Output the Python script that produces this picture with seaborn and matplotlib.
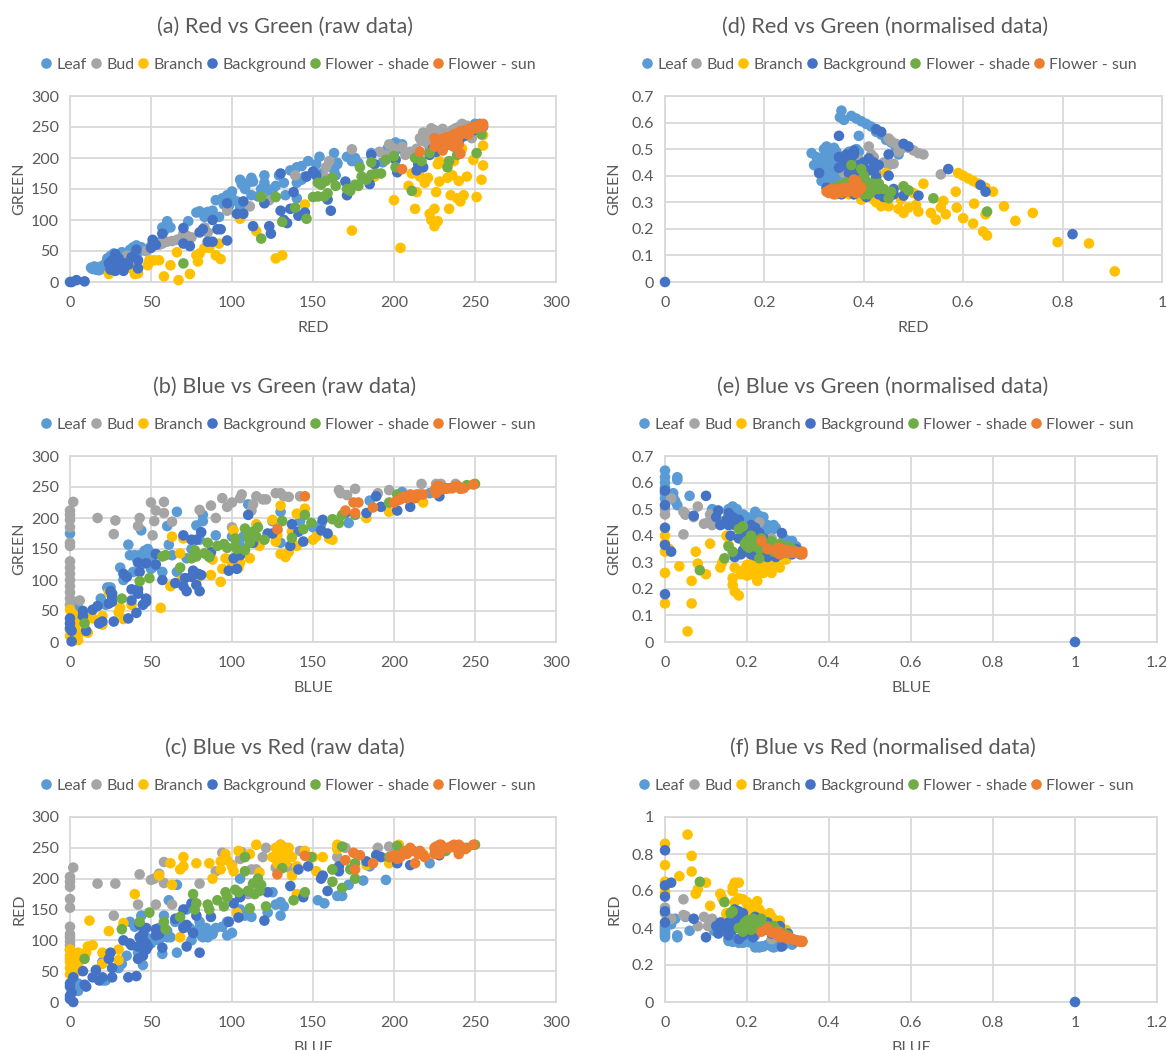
import pandas as pd
import seaborn as sns
from matplotlib import pyplot as plt

series_names = ["Leaf", "Bud", "Branch", "Background", "Flower - shade", "Flower - sun"]
series_colors = ["#5B9BD5", "#A5A5A5", "#FFC000", "#4472C4", "#70AD47", "#ED7D31"]

# (a) red, green
a_leaf = [(13,23),(15,25),(17,24),(19,21),(20,26),(22,30),(23,38),(25,42),(27,46),(30,40),(32,48),(35,42),(37,52),(39,56),(41,59),(44,56),(47,50),(50,58),(52,62),(56,65),(57,88),(60,98),(62,88),(73,98),(78,112),(80,114),(85,113),(88,115),(92,105),(90,132),(94,135),(97,140),(98,122),(100,146),(103,130),(105,120),(105,165),(106,158),(110,160),(112,168),(113,162),(112,140),(116,138),(120,172),(120,160),(122,150),(125,148),(127,155),(129,172),(132,160),(133,140),(136,180),(140,185),(140,160),(140,135),(143,187),(147,195),(145,170),(154,202),(155,175),(163,208),(165,192),(163,180),(164,172),(171,202),(174,195),(178,192),(186,208),(193,193),(199,222),(201,225),(203,215),(225,225),(235,225),(250,255),(253,255),(245,248),(255,250),(240,240),
          (14,21),(16,20),(18,19),(21,22),(24,24),(26,28),(24,33),(28,35),(33,38),(36,47),(40,50),(43,50),(30,30),(26,21),(60,90),(58,82),(83,105),(95,125),(100,135),(108,150),(118,150),(124,142),(143,165),(152,190),(165,190),(176,200),(196,215),(205,222),(222,218),(228,228),(232,232),(238,236),(244,245),(248,250)]
a_bud = [(35,42),(47,50),(55,60),(57,62),(60,65),(63,66),(66,68),(69,72),(70,78),(72,75),(75,72),(83,88),(85,80),(97,115),(111,122),(123,132),(139,172),(160,195),(158,185),(157,170),(174,214),(191,210),(195,205),(197,222),(200,215),(205,218),(207,205),(210,210),(214,215),(217,228),(218,235),(218,241),(222,222),(223,248),(230,247),(233,230),(240,250),(242,255),(248,232),(252,245),
         (216,232),(220,238),(225,245),(228,240),(236,245),(238,248),(245,252),(220,225)]
a_branch = [(24,13),(38,22),(40,13),(42,14),(48,27),(49,35),(52,35),(55,35),(58,9),(62,27),(66,48),(67,3),(74,13),(78,43),(79,33),(80,46),(83,55),(86,55),(90,43),(92,62),(93,37),(105,102),(115,82),(127,38),(131,43),(145,125),(174,83),(188,170),(200,132),(204,55),(209,155),(211,175),(213,118),(214,145),(216,170),(219,160),(221,168),(222,110),(223,100),(225,118),(225,90),(226,145),(227,190),(227,98),(228,162),(233,168),(234,118),(235,140),(236,172),(237,195),(239,135),(240,163),(241,130),(242,215),(243,140),(245,170),(249,197),(251,137),(254,165),(255,188),(255,220),(255,237),(228,195)]
a_background = [(0,0),(1,0),(4,3),(9,1),(24,30),(25,20),(26,35),(28,45),(28,18),(30,25),(33,18),(34,30),(38,40),(41,52),(42,35),(42,22),(51,68),(50,55),(53,60),(57,78),(70,87),(70,62),(74,58),(80,80),(82,85),(85,65),(88,65),(88,100),(91,85),(93,85),(97,67),(97,127),(103,110),(107,110),(107,130),(113,90),(120,127),(123,90),(124,78),(130,115),(130,175),(132,100),(134,95),(136,118),(138,145),(141,107),(145,112),(146,170),(150,178),(152,172),(159,133),(161,115),(170,162),(171,140),(185,158),(186,205),(188,190),(201,197),(202,177),(214,180),(218,185),(222,205),(226,210),(230,215),(236,220),(240,225),
                (215,190),(224,215),(233,222),(238,228),(243,235),(250,245),(27,30),(30,38),(36,28)]
a_shade = [(70,30),(118,70),(118,137),(127,137),(131,97),(139,120),(146,102),(150,137),(153,138),(153,160),(155,157),(158,163),(157,138),(159,143),(162,168),(164,155),(171,150),(173,147),(176,157),(178,155),(179,185),(180,170),(183,165),(186,173),(186,193),(189,175),(192,175),(195,197),(200,203),(201,185),(211,147),(213,200),(217,195),(222,208),(233,185),(234,195),(239,205),(251,208),(254,238)]
a_sun = [(205,182),(216,210),(225,218),(225,232),(230,212),(232,225),(235,228),(238,225),(240,235),(241,207),(243,240),(245,240),(246,243),(248,246),(250,248),(252,250),(255,252),(255,255),(240,222),(236,232),(228,228),(249,250),
         (226,225),(229,230),(231,232),(233,234),(237,238),(239,240),(241,243),(244,245),(247,248),(251,252),(253,253),(254,250),(234,222),(237,218),(246,238)]

# (b) blue, green
b_leaf = [(0,175),(2,65),(5,55),(3,35),(19,70),(22,60),(23,88),(25,88),(31,120),(33,100),(36,157),(37,140),(39,113),(41,135),(43,140),(44,180),(45,128),(46,147),(48,135),(50,118),(52,122),(57,113),(60,187),(61,157),(63,140),(66,113),(66,210),(72,135),(75,150),(78,188),(80,165),(82,205),(82,195),(90,172),(100,170),(105,155),(107,170),(110,222),(112,165),(125,195),(128,180),(130,210),(130,160),(142,195),(150,185),(155,190),(172,192),(185,228),(205,242),(222,240),(217,230),
          (44,125),(47,140),(49,145),(46,140),(43,135),(40,140),(48,150),(50,132),(4,40),(1,50),(3,60)]
b_bud = [(0,60),(0,70),(0,80),(0,90),(0,100),(0,110),(0,120),(0,130),(0,155),(0,160),(0,185),(0,197),(0,205),(0,212),(2,226),(6,67),(17,200),(27,174),(28,196),(42,187),(43,200),(50,225),(51,172),(52,195),(53,212),(58,208),(58,226),(63,194),(80,213),(87,220),(90,200),(94,232),(97,218),(100,225),(100,185),(105,232),(106,238),(112,212),(113,222),(115,235),(119,230),(121,230),(127,240),(130,240),(132,235),(135,234),(142,235),(166,245),(167,240),(171,237),(176,247),(190,240),(197,245),(217,255),(226,255),(229,255),(238,255)]
b_branch = [(0,10),(0,20),(0,52),(2,45),(4,30),(5,3),(6,15),(11,15),(13,40),(14,38),(20,28),(20,42),(24,80),(30,48),(31,55),(33,37),(38,60),(56,55),(62,90),(63,170),(68,143),(69,100),(70,167),(78,100),(87,108),(88,133),(93,97),(94,118),(96,135),(100,125),(101,180),(104,120),(105,128),(111,135),(115,190),(117,155),(125,197),(127,162),(128,172),(130,220),(130,142),(133,137),(135,145),(137,178),(140,207),(140,155),(145,215),(150,165),(152,170),(162,165),(160,167),(165,197),(183,200),(197,210),(218,225)]
b_background = [(1,1),(0,38),(0,30),(0,22),(1,18),(8,50),(8,42),(10,18),(14,52),(17,58),(18,30),(20,33),(24,62),(25,82),(26,72),(26,78),(26,65),(27,33),(33,110),(35,105),(36,38),(38,67),(38,85),(41,47),(42,78),(42,85),(42,128),(43,113),(45,60),(47,70),(47,65),(47,127),(53,125),(53,142),(57,100),(65,95),(70,172),(70,90),(72,82),(71,103),(75,105),(75,165),(76,115),(78,92),(78,165),(79,110),(80,82),(81,108),(81,177),(87,145),(98,115),(101,135),(103,118),(105,140),(110,205),(113,160),(122,175),(125,175),(136,155),(137,190),(141,178),(144,162),(155,180),(156,197),(159,175),(170,208),(183,208),(189,235),(192,218),(202,212),(210,218),(228,235)]
b_shade = [(9,30),(32,70),(43,98),(49,103),(57,138),(59,140),(68,120),(75,135),(77,148),(78,138),(83,143),(85,140),(86,137),(85,160),(91,155),(95,158),(97,152),(102,155),(102,167),(103,150),(108,183),(108,148),(110,170),(111,160),(113,178),(115,170),(116,185),(120,165),(131,195),(137,168),(144,182),(145,205),(149,192),(162,198),(166,192),(168,205),(176,205),(197,225),(202,238),(232,248),(240,250),(245,253),(250,255)]
b_sun = [(128,182),(145,235),(170,212),(175,225),(176,208),(178,225),(187,217),(200,225),(204,230),(207,235),(210,238),(213,232),(216,238),(218,238),(225,245),(227,252),(230,248),(234,248),(237,250),(240,250),(243,248),(249,254),
         (226,248),(229,250),(232,247),(236,248),(239,252),(241,247),(202,228),(205,233),(208,232),(212,235),(214,238),(226,240),(228,245)]

# (c) blue, red
c_leaf = [(2,20),(5,30),(5,18),(20,65),(20,35),(22,35),(30,55),(32,62),(35,75),(37,130),(40,122),(42,80),(44,140),(45,60),(47,105),(50,95),(55,120),(57,78),(58,140),(60,110),(61,165),(62,105),(66,80),(66,190),(70,125),(72,150),(74,120),(75,100),(80,130),(82,105),(84,120),(85,105),(90,120),(94,122),(97,130),(97,108),(100,112),(105,150),(108,140),(112,138),(105,200),(122,145),(125,178),(127,158),(130,140),(130,162),(132,155),(153,165),(157,160),(165,172),(168,172),(172,190),(181,197),(185,220),(195,198),(222,225),
          (2,30),(4,25),(45,90),(50,100),(55,100),(60,105),(60,115),(65,130),(80,120),(85,115),(88,110),(80,110)]
c_bud = [(0,70),(0,85),(0,92),(0,98),(0,105),(0,110),(0,122),(0,153),(0,167),(0,187),(0,195),(0,203),(2,218),(5,55),(17,192),(27,140),(28,192),(42,158),(43,207),(50,198),(52,200),(53,158),(55,208),(58,193),(58,227),(63,158),(80,192),(90,212),(94,242),(100,222),(105,232),(106,243),(110,175),(112,215),(115,215),(119,235),(121,250),(127,218),(130,255),(133,250),(135,218),(142,245),(165,235),(170,250),(190,250),(197,252),(228,255)]
c_branch = [(0,45),(0,55),(0,85),(2,65),(3,75),(5,60),(5,80),(10,80),(11,90),(12,132),(14,92),(20,80),(20,62),(24,115),(30,85),(30,68),(33,128),(40,175),(55,205),(62,225),(63,190),(68,105),(68,215),(70,235),(70,220),(78,225),(86,225),(88,200),(93,215),(93,228),(96,240),(97,230),(100,220),(103,145),(104,245),(101,212),(111,240),(115,255),(117,210),(125,235),(127,250),(128,225),(130,255),(133,225),(135,250),(137,205),(137,235),(140,220),(140,175),(145,245),(150,235),(152,212),(156,235),(162,215),(165,255),(165,248),(183,222),(197,225),(203,255),(218,240),
            (0,65),(0,75),(3,55),(7,70),(5,50),(130,230),(128,245),(132,240),(135,240)]
c_background = [(0,5),(0,10),(0,25),(0,30),(1,15),(2,0),(2,40),(8,50),(9,28),(10,25),(14,40),(16,52),(18,35),(20,40),(24,70),(25,80),(26,55),(26,40),(33,100),(36,40),(37,95),(38,92),(41,42),(42,70),(43,105),(43,125),(44,95),(45,75),(47,85),(47,120),(53,118),(53,108),(57,88),(65,135),(70,120),(70,150),(72,90),(72,125),(75,160),(76,112),(78,140),(80,80),(87,138),(98,130),(101,160),(104,137),(105,170),(110,180),(120,132),(122,178),(136,188),(141,215),(144,170),(147,220),(155,200),(156,205),(159,180),(166,220),(166,212),(183,228),(189,238),(192,235),(202,225),(210,222),(228,238),
                (47,95),(45,110),(42,90),(45,100),(48,90),(55,110)]
c_shade = [(9,70),(32,118),(43,130),(49,145),(58,130),(59,118),(68,138),(76,175),(77,150),(78,160),(85,158),(86,150),(91,165),(95,155),(96,178),(97,170),(102,182),(104,178),(108,235),(108,212),(110,180),(111,152),(113,192),(114,175),(116,200),(117,180),(118,190),(121,155),(131,217),(138,165),(145,178),(149,235),(162,195),(162,215),(168,185),(168,252),(173,215),(176,225),(176,200),(197,235),(202,253),(232,245),(240,250),(245,250),(250,255)]
c_sun = [(128,207),(145,237),(170,230),(175,242),(176,215),(179,238),(187,225),(200,238),(204,235),(207,245),(210,250),(213,225),(216,245),(218,238),(225,250),(227,250),(230,248),(234,250),(237,255),(240,240),(243,250),(249,255),
         (226,252),(228,240),(229,255),(232,250),(235,252),(238,250),(241,252),(244,248),(198,235),(202,232),(205,240),(208,240),(212,245),(215,240),(219,235),(225,240),(226,245),(240,255)]

# (d) red, green normalised
d_leaf = [(0.355,0.645),(0.352,0.62),(0.36,0.61),(0.375,0.625),(0.385,0.615),(0.395,0.605),(0.405,0.595),(0.415,0.585),(0.425,0.565),(0.435,0.555),(0.445,0.535),(0.39,0.55),(0.455,0.525),(0.465,0.5),(0.47,0.48),(0.295,0.485),(0.3,0.44),(0.305,0.47),(0.315,0.44),(0.32,0.47),(0.325,0.51),(0.33,0.49),(0.335,0.46),(0.34,0.505),(0.345,0.49),(0.325,0.42),(0.335,0.43),(0.34,0.41),(0.345,0.39),(0.315,0.38),(0.33,0.37),(0.35,0.45),(0.36,0.42),(0.385,0.5),(0.39,0.49),(0.33,0.395),(0.345,0.36),
          (0.31,0.45),(0.31,0.42),(0.32,0.4),(0.33,0.44),(0.34,0.45),(0.35,0.47),(0.32,0.5),(0.35,0.41),(0.36,0.39),(0.355,0.37),(0.365,0.46),(0.37,0.49)]
d_bud = [(0.41,0.51),(0.415,0.48),(0.42,0.47),(0.39,0.46),(0.38,0.44),(0.36,0.41),(0.37,0.38),(0.425,0.41),(0.44,0.45),(0.45,0.44),(0.46,0.445),(0.455,0.53),(0.465,0.52),(0.45,0.54),(0.475,0.5),(0.47,0.49),(0.49,0.505),(0.5,0.495),(0.51,0.485),(0.52,0.48),(0.555,0.405),(0.43,0.37)]
d_branch = [(0.59,0.41),(0.6,0.4),(0.61,0.39),(0.62,0.38),(0.63,0.37),(0.645,0.355),(0.66,0.34),(0.345,0.33),(0.37,0.33),(0.38,0.33),(0.395,0.31),(0.42,0.31),(0.425,0.3),(0.435,0.285),(0.45,0.285),(0.445,0.41),(0.46,0.33),(0.47,0.275),(0.475,0.31),(0.48,0.26),(0.48,0.36),(0.49,0.28),(0.5,0.335),(0.505,0.29),(0.51,0.265),(0.52,0.37),(0.535,0.26),(0.545,0.235),(0.555,0.28),(0.56,0.305),(0.565,0.255),(0.585,0.34),(0.587,0.28),(0.6,0.24),(0.62,0.22),(0.622,0.295),(0.64,0.19),(0.645,0.255),(0.648,0.175),(0.682,0.285),(0.705,0.23),(0.74,0.26),(0.79,0.15),(0.853,0.145),(0.905,0.04)]
d_background = [(0,0),(0.31,0.41),(0.325,0.355),(0.35,0.55),(0.35,0.47),(0.355,0.33),(0.36,0.44),(0.365,0.48),(0.37,0.41),(0.38,0.48),(0.38,0.33),(0.38,0.495),(0.39,0.44),(0.41,0.465),(0.41,0.42),(0.42,0.45),(0.425,0.575),(0.43,0.44),(0.435,0.565),(0.425,0.395),(0.45,0.48),(0.45,0.4),(0.43,0.33),(0.44,0.32),(0.46,0.35),(0.46,0.33),(0.48,0.325),(0.48,0.52),(0.49,0.51),(0.51,0.325),(0.57,0.425),(0.635,0.365),(0.645,0.34),(0.82,0.18),(0.405,0.32),
                (0.37,0.46),(0.38,0.42),(0.4,0.45),(0.42,0.42),(0.39,0.4),(0.37,0.44),(0.35,0.43),(0.375,0.47)]
d_shade = [(0.375,0.44),(0.395,0.425),(0.4,0.4),(0.405,0.38),(0.41,0.36),(0.38,0.385),(0.365,0.375),(0.35,0.365),(0.345,0.35),(0.41,0.33),(0.42,0.37),(0.43,0.365),(0.44,0.35),(0.45,0.315),(0.455,0.34),(0.48,0.36),(0.49,0.345),(0.54,0.315),(0.648,0.265),(0.42,0.35),(0.4,0.345),
           (0.37,0.37),(0.39,0.37),(0.41,0.37),(0.43,0.35),(0.38,0.36),(0.395,0.36),(0.405,0.35),(0.415,0.34),(0.42,0.36),(0.43,0.37),(0.4,0.33),(0.36,0.36)]
d_sun = [(0.33,0.34),(0.335,0.335),(0.34,0.34),(0.345,0.345),(0.35,0.34),(0.355,0.345),(0.36,0.345),(0.365,0.35),(0.37,0.355),(0.375,0.345),(0.385,0.38),(0.385,0.335),(0.395,0.355),(0.34,0.345),(0.33,0.335),
         (0.325,0.34),(0.33,0.345),(0.335,0.35),(0.34,0.33),(0.345,0.335),(0.35,0.35),(0.355,0.335),(0.36,0.355),(0.365,0.34),(0.37,0.34),(0.375,0.36),(0.38,0.34),(0.38,0.385),(0.39,0.345)]

# (e) blue, green normalised
e_leaf = [(0,0.645),(0,0.62),(0,0.6),(0,0.58),(0.03,0.62),(0.03,0.61),(0.03,0.515),(0.02,0.56),(0.025,0.53),(0.06,0.55),(0.05,0.48),(0.115,0.5),(0.155,0.5),(0.165,0.51),(0.17,0.495),(0.18,0.48),(0.19,0.48),(0.2,0.47),(0.22,0.49),(0.23,0.475),(0.24,0.47),(0.25,0.44),(0.265,0.44),(0.27,0.43),(0.3,0.38),(0.31,0.38),(0.32,0.36),(0.33,0.335),(0.25,0.41),(0.24,0.42),(0.23,0.45),(0.16,0.46),
          (0,0.56),(0,0.54),(0.02,0.545),(0.12,0.49),(0.16,0.49),(0.175,0.5),(0.185,0.47),(0.21,0.46),(0.215,0.47),(0.225,0.46),(0.235,0.45),(0.245,0.43),(0.26,0.42),(0.29,0.39),(0.31,0.36),(0.33,0.34),(0.32,0.345)]
e_bud = [(0,0.48),(0,0.5),(0.015,0.54),(0.045,0.49),(0.05,0.48),(0.07,0.47),(0.08,0.51),(0.095,0.445),(0.105,0.45),(0.11,0.48),(0.115,0.44),(0.045,0.405),(0.26,0.39),(0.23,0.45),(0.15,0.46)]
e_branch = [(0,0.4),(0,0.37),(0,0.34),(0,0.26),(0,0.145),(0.01,0.35),(0.035,0.285),(0.065,0.23),(0.065,0.145),(0.055,0.04),(0.075,0.34),(0.08,0.295),(0.1,0.255),(0.11,0.37),(0.135,0.28),(0.14,0.3),(0.15,0.4),(0.155,0.365),(0.165,0.24),(0.165,0.215),(0.17,0.19),(0.18,0.175),(0.17,0.28),(0.18,0.33),(0.185,0.255),(0.195,0.255),(0.2,0.29),(0.21,0.255),(0.215,0.3),(0.225,0.23),(0.23,0.265),(0.23,0.285),(0.25,0.3),(0.255,0.275),(0.26,0.26),(0.27,0.3),(0.28,0.28),(0.295,0.31),(0.21,0.33),
            (0.19,0.27),(0.2,0.25),(0.21,0.28),(0.22,0.27),(0.24,0.26),(0.23,0.3),(0.22,0.29)]
e_background = [(0,0.57),(0,0.515),(0,0.43),(0,0.365),(0,0.18),(0.015,0.34),(0.07,0.475),(0.1,0.55),(0.13,0.495),(0.125,0.47),(0.135,0.44),(0.155,0.44),(0.155,0.485),(0.16,0.4),(0.165,0.47),(0.17,0.32),(0.18,0.46),(0.18,0.39),(0.185,0.33),(0.19,0.345),(0.21,0.44),(0.215,0.4),(0.22,0.325),(0.23,0.41),(0.25,0.32),(0.26,0.345),(0.285,0.41),(0.28,0.33),(0.3,0.34),(0.32,0.35),(1,0),
                (0.15,0.46),(0.17,0.44),(0.19,0.42),(0.2,0.41),(0.22,0.43),(0.24,0.39),(0.2,0.34),(0.21,0.33),(0.24,0.33),(0.27,0.32),(0.31,0.33),(0.33,0.33)]
e_shade = [(0.085,0.27),(0.145,0.315),(0.155,0.36),(0.165,0.34),(0.18,0.425),(0.19,0.435),(0.195,0.37),(0.205,0.355),(0.21,0.4),(0.215,0.375),(0.22,0.36),(0.23,0.315),(0.235,0.39),(0.25,0.35),(0.26,0.38),(0.265,0.34),(0.28,0.37),(0.3,0.36),(0.31,0.35),
           (0.2,0.38),(0.21,0.36),(0.22,0.38),(0.23,0.35),(0.24,0.36),(0.26,0.36),(0.27,0.35),(0.29,0.34),(0.2,0.36),(0.21,0.385)]
e_sun = [(0.235,0.38),(0.25,0.35),(0.275,0.355),(0.28,0.34),(0.285,0.35),(0.29,0.345),(0.3,0.345),(0.31,0.34),(0.32,0.34),(0.33,0.335),(0.335,0.34),(0.28,0.33),
         (0.27,0.345),(0.275,0.335),(0.285,0.335),(0.295,0.335),(0.305,0.335),(0.315,0.335),(0.325,0.335),(0.335,0.33)]

# (f) blue, red normalised
f_leaf = [(0,0.35),(0,0.37),(0,0.39),(0,0.41),(0.03,0.35),(0.03,0.36),(0.06,0.385),(0.015,0.42),(0.025,0.45),(0.05,0.46),(0.155,0.34),(0.165,0.325),(0.17,0.34),(0.19,0.32),(0.2,0.33),(0.22,0.295),(0.23,0.295),(0.24,0.3),(0.25,0.31),(0.265,0.295),(0.27,0.3),(0.3,0.32),(0.31,0.32),(0.32,0.33),(0.12,0.385),(0.16,0.36),
          (0,0.36),(0,0.38),(0,0.4),(0.155,0.33),(0.18,0.33),(0.21,0.32),(0.225,0.3),(0.235,0.3),(0.26,0.3),(0.28,0.3),(0.29,0.31),(0.18,0.32),(0.195,0.325),(0.31,0.31),(0.33,0.33)]
f_bud = [(0,0.51),(0,0.48),(0.015,0.45),(0.045,0.555),(0.045,0.47),(0.05,0.465),(0.08,0.41),(0.095,0.46),(0.105,0.41),(0.11,0.43),(0.115,0.45),(0.15,0.38),(0.22,0.36),(0.26,0.34)]
f_branch = [(0,0.855),(0,0.74),(0,0.65),(0,0.62),(0,0.59),(0.035,0.68),(0.055,0.905),(0.065,0.79),(0.065,0.705),(0.075,0.585),(0.08,0.61),(0.1,0.645),(0.11,0.52),(0.135,0.585),(0.14,0.56),(0.15,0.48),(0.165,0.62),(0.165,0.6),(0.17,0.645),(0.18,0.645),(0.18,0.56),(0.19,0.555),(0.2,0.54),(0.21,0.5),(0.22,0.52),(0.225,0.545),(0.23,0.5),(0.235,0.48),(0.255,0.48),(0.26,0.46),(0.27,0.44),(0.28,0.44),(0.295,0.39),(0.2,0.46),
            (0.2,0.53),(0.21,0.52),(0.22,0.5),(0.23,0.47),(0.24,0.46),(0.25,0.47),(0.27,0.42),(0.28,0.42),(0.15,0.47),(0.17,0.54)]
f_background = [(0,0.82),(0,0.63),(0,0.57),(0,0.49),(0,0.43),(0.015,0.645),(0.07,0.45),(0.1,0.35),(0.125,0.41),(0.13,0.37),(0.135,0.43),(0.155,0.43),(0.155,0.36),(0.16,0.41),(0.165,0.39),(0.17,0.5),(0.18,0.34),(0.185,0.44),(0.19,0.48),(0.21,0.38),(0.215,0.35),(0.22,0.46),(0.23,0.42),(0.25,0.43),(0.26,0.37),(0.28,0.41),(0.285,0.3),(0.3,0.37),(0.32,0.33),(1,0),
                (0.14,0.4),(0.15,0.41),(0.17,0.44),(0.18,0.42),(0.19,0.36),(0.2,0.38),(0.17,0.47),(0.18,0.49),(0.21,0.43),(0.24,0.39),(0.27,0.39),(0.29,0.36),(0.31,0.34)]
f_shade = [(0.085,0.65),(0.145,0.54),(0.16,0.48),(0.165,0.49),(0.18,0.4),(0.19,0.38),(0.195,0.43),(0.205,0.44),(0.21,0.41),(0.215,0.45),(0.22,0.42),(0.235,0.45),(0.25,0.41),(0.26,0.38),(0.265,0.41),(0.28,0.38),(0.3,0.36),(0.31,0.34),
           (0.2,0.42),(0.21,0.39),(0.22,0.4),(0.23,0.43),(0.24,0.41),(0.25,0.39),(0.27,0.39),(0.29,0.37),(0.2,0.44),(0.19,0.41)]
f_sun = [(0.235,0.38),(0.25,0.4),(0.275,0.38),(0.28,0.37),(0.285,0.36),(0.29,0.36),(0.3,0.35),(0.31,0.34),(0.32,0.335),(0.33,0.33),(0.335,0.325),
         (0.26,0.375),(0.27,0.37),(0.275,0.36),(0.28,0.35),(0.29,0.35),(0.3,0.34),(0.305,0.345),(0.315,0.335),(0.325,0.33),(0.33,0.325),(0.335,0.33)]

raw_ticks = [0, 50, 100, 150, 200, 250, 300]
unit_ticks = [0, 0.2, 0.4, 0.6, 0.8, 1]
wide_ticks = [0, 0.2, 0.4, 0.6, 0.8, 1, 1.2]
green_ticks = [0, 0.1, 0.2, 0.3, 0.4, 0.5, 0.6, 0.7]

W, H = 1166, 1050
TEXT = "#595959"
GRID = "#D9D9D9"

sns.set_theme(style="whitegrid")
plt.rcParams["font.family"] = ["Lato", "DejaVu Sans"]

panels = [
    ("(a) Red vs Green (raw data)", "RED", "GREEN", raw_ticks, raw_ticks,
     [a_leaf, a_bud, a_branch, a_background, a_shade, a_sun], (70, 556, 96, 282)),
    ("(b) Blue vs Green (raw data)", "BLUE", "GREEN", raw_ticks, raw_ticks,
     [b_leaf, b_bud, b_branch, b_background, b_shade, b_sun], (70, 556, 456, 642)),
    ("(c) Blue vs Red (raw data)", "BLUE", "RED", raw_ticks, raw_ticks,
     [c_leaf, c_bud, c_branch, c_background, c_shade, c_sun], (70, 556, 817, 1002)),
    ("(d) Red vs Green (normalised data)", "RED", "GREEN", unit_ticks, green_ticks,
     [d_leaf, d_bud, d_branch, d_background, d_shade, d_sun], (665, 1162, 96, 282)),
    ("(e) Blue vs Green (normalised data)", "BLUE", "GREEN", wide_ticks, green_ticks,
     [e_leaf, e_bud, e_branch, e_background, e_shade, e_sun], (665, 1157, 456, 642)),
    ("(f) Blue vs Red (normalised data)", "BLUE", "RED", wide_ticks, unit_ticks,
     [f_leaf, f_bud, f_branch, f_background, f_shade, f_sun], (665, 1157, 817, 1002)),
]

fig = plt.figure(figsize=(W / 100, H / 100), dpi=100)

for title, xlabel, ylabel, xticks, yticks, groups, box in panels:
    left, right, top, bottom = box
    ax = fig.add_axes([left / W, 1 - bottom / H, (right - left) / W, (bottom - top) / H])

    rows = []
    for name, points in zip(series_names, groups):
        for x, y in points:
            rows.append({"x": x, "y": y, "series": name})
    df = pd.DataFrame(rows)

    sns.scatterplot(data=df, x="x", y="y", hue="series", hue_order=series_names,
                    palette=series_colors, s=58, linewidth=0, clip_on=False, zorder=3, ax=ax)

    ax.set_xlim(xticks[0], xticks[-1])
    ax.set_ylim(yticks[0], yticks[-1])
    ax.set_xticks(xticks)
    ax.set_yticks(yticks)
    ax.set_xticklabels([str(t) for t in xticks])
    ax.set_yticklabels([str(t) for t in yticks])
    ax.grid(True, color=GRID, linewidth=1.3)
    ax.set_axisbelow(True)
    for spine in ax.spines.values():
        spine.set_color(GRID)
        spine.set_linewidth(1.3)
    ax.tick_params(axis="x", length=0, labelsize=11.5, labelcolor=TEXT, pad=10)
    ax.tick_params(axis="y", length=0, labelsize=11.5, labelcolor=TEXT, pad=8)
    ax.set_xlabel(xlabel, fontsize=11.5, color=TEXT, labelpad=8)
    ax.set_ylabel(ylabel, fontsize=11.5, color=TEXT, labelpad=3 if left < 600 else 7)

    # title and legend sit in the space above the plot area
    cx = (left + right) / 2 - 28
    fig.text(cx / W, 1 - (top - 69) / H, title, fontsize=15.7, color=TEXT, ha="center", va="center")

    sns.move_legend(ax, "center", bbox_to_anchor=((cx + 3) / W, 1 - (top - 31.5) / H),
                    bbox_transform=fig.transFigure, ncol=6, frameon=False, title=None,
                    fontsize=11.5, labelcolor=TEXT, handlelength=0.8, handletextpad=0.25,
                    columnspacing=0.15, borderpad=0)

fig.savefig("out.png", dpi=100)
